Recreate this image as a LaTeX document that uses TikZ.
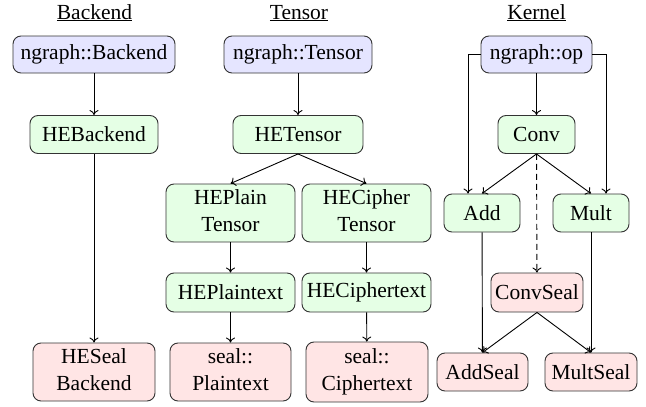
\documentclass[tikz,border=0pt]{standalone}
\usepackage{fontspec}
\setmainfont{Liberation Serif}
\newfontfamily\boxfont{Liberation Serif}
\usetikzlibrary{arrows.meta}
\newcommand{\twol}[2]{\begin{tabular}{@{}c@{}}#1\\#2\end{tabular}}
\begin{document}
\begin{tikzpicture}[x=1pt,y=-1pt,
  box/.style={draw=black!80, line width=0.9pt, rounded corners=8pt, inner sep=0pt, font=\boxfont\fontsize{21.5}{27}\selectfont},
  ngr/.style={box, fill=blue!10},
  he/.style={box, fill=green!10},
  sl/.style={box, fill=red!10},
  conn/.style={line width=0.9pt, -{To[length=5pt,width=9pt]}},
  ttl/.style={font=\boxfont\fontsize{21.5}{27}\selectfont, inner sep=0pt, anchor=base}
]
\useasboundingbox (0,0) rectangle (646,407);
% titles
\node[ttl] (tb) at (94.5,19) {\underline{Backend}};
\node[ttl] (tt) at (299,19) {\underline{Tensor}};
\node[ttl] (tk) at (536.5,19) {\underline{Kernel}};
% Backend column
\node[ngr, minimum width=162pt, minimum height=37pt] (nb) at (94,54.5) {ngraph::Backend};
\node[he, minimum width=128pt, minimum height=38pt] (heb) at (94,134.5) {HEBackend};
\node[sl, minimum width=122pt, minimum height=58pt] (hesb) at (94,372) {\twol{HESeal}{Backend}};
% Tensor column
\node[ngr, minimum width=148pt, minimum height=37pt] (nt) at (298,54.5) {ngraph::Tensor};
\node[he, minimum width=130pt, minimum height=38pt] (het) at (298,134.5) {HETensor};
\node[he, minimum width=129pt, minimum height=58pt] (hept) at (230.5,213) {\twol{HEPlain}{Tensor}};
\node[he, minimum width=129pt, minimum height=58pt] (hect) at (366.5,213) {\twol{HECipher}{Tensor}};
\node[he, minimum width=129pt, minimum height=39pt] (hep) at (230.5,292.5) {HEPlaintext};
\node[he, minimum width=129pt, minimum height=39pt] (hec) at (366.5,292.5) {HECiphertext};
\node[sl, minimum width=121pt, minimum height=58pt] (sp) at (230.5,372) {\twol{seal::}{Plaintext}};
\node[sl, minimum width=122pt, minimum height=60pt] (sc) at (367,372) {\twol{seal::}{Ciphertext}};
% Kernel column
\node[ngr, minimum width=111pt, minimum height=37pt] (op) at (536.5,54.5) {ngraph::op};
\node[he, minimum width=77pt, minimum height=38pt] (conv) at (536.5,134.5) {Conv};
\node[he, minimum width=76pt, minimum height=38pt] (add) at (482,213) {Add};
\node[he, minimum width=76pt, minimum height=38pt] (mult) at (591,213) {Mult};
\node[sl, minimum width=92pt, minimum height=39pt] (convs) at (537,292.5) {ConvSeal};
\node[sl, minimum width=91pt, minimum height=38pt] (adds) at (482.5,372) {AddSeal};
\node[sl, minimum width=92pt, minimum height=38pt] (mults) at (591,372) {MultSeal};
% connectors
\draw[conn] (nb) -- (heb);
\draw[conn] (heb) -- (hesb);
\draw[conn] (nt) -- (het);
\draw[conn] (het.south) -- (hept.north);
\draw[conn] (het.south) -- (hect.north);
\draw[conn] (hept) -- (hep);
\draw[conn] (hep) -- (sp);
\draw[conn] (hect) -- (hec);
\draw[conn] (hec) -- (sc);
\draw[conn] (op) -- (conv);
\draw[conn] (op.west) -| ([xshift=-14pt]add.north);
\draw[conn] (op.east) -| ([xshift=15pt]mult.north);
\draw[conn] (conv.south) -- (add.north);
\draw[conn] (conv.south) -- (mult.north);
\draw[conn, dash pattern=on 6pt off 4pt] (conv) -- (convs);
\draw[conn] (add) -- (adds);
\draw[conn] (mult) -- (mults);
\draw[conn] (convs.south) -- (adds.north);
\draw[conn] (convs.south) -- (mults.north);
\end{tikzpicture}
\end{document}
